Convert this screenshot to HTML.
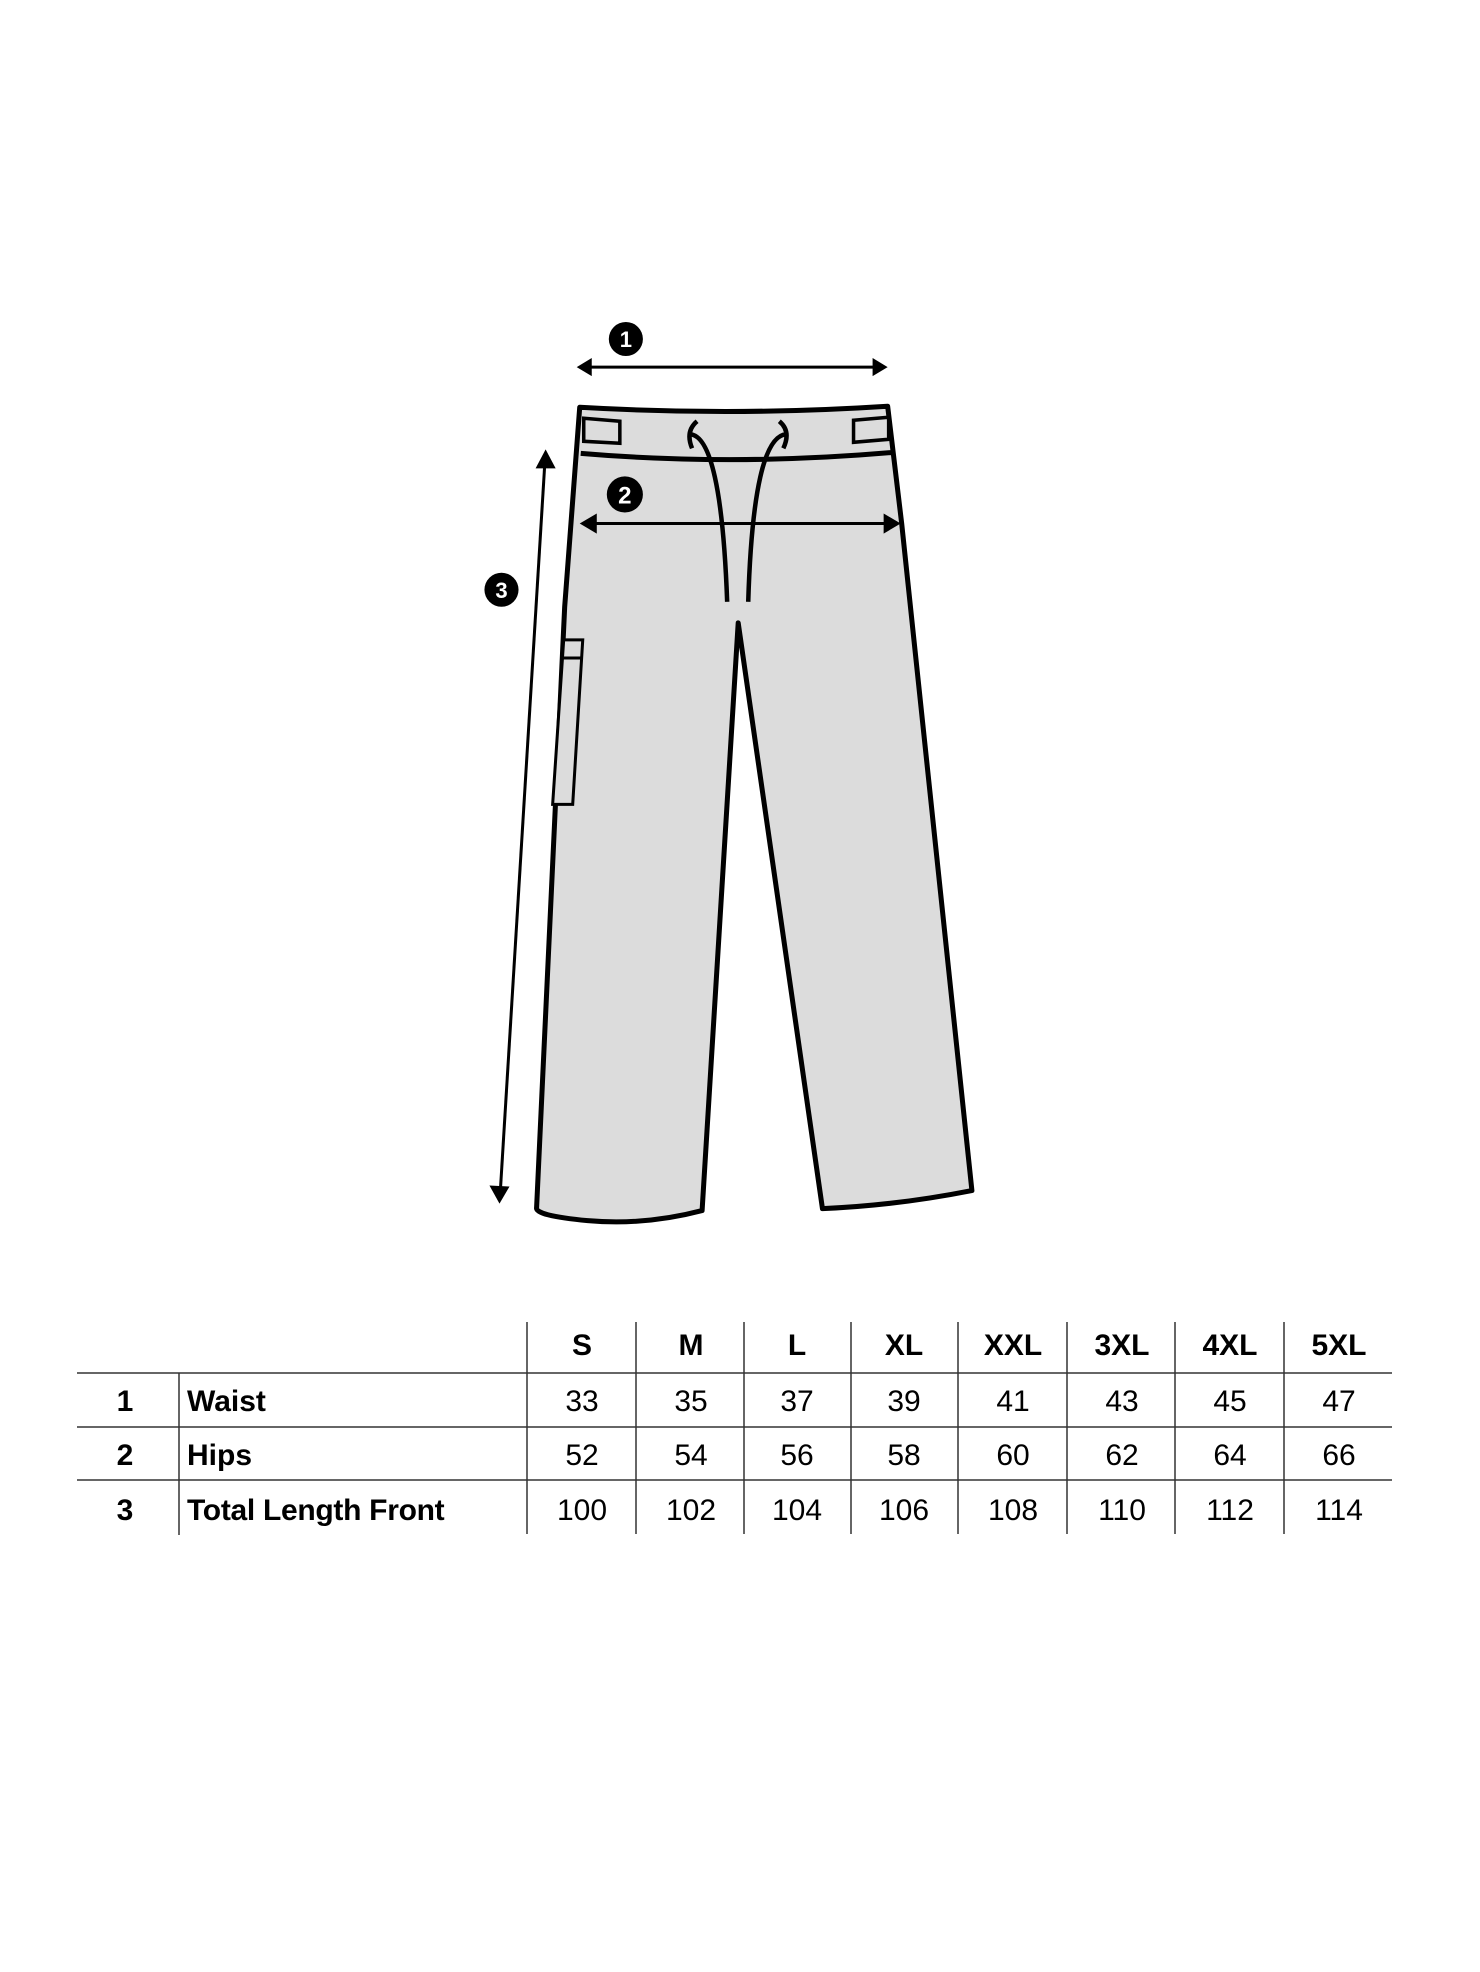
<!DOCTYPE html>
<html><head><meta charset="utf-8"><style>
html,body{margin:0;padding:0;background:#fff;}
body{width:1480px;height:1972px;position:relative;overflow:hidden;font-family:"Liberation Sans",sans-serif;}
svg{position:absolute;left:0;top:0;}
</style></head><body>
<svg width="1480" height="1972" viewBox="0 0 1480 1972">
<g transform="translate(3,5) scale(1.003)">
<path d="M575,401 Q728,410 882,400 L896,517 L966,1182 Q890,1197 817,1200 L733,616 L697,1202 Q640,1217 583,1212 Q530,1207 532,1199 L560,600 Z" fill="#dcdcdc" stroke="#000" stroke-width="5" stroke-linejoin="round"/>
<path d="M576,447 Q728,460 888,446" fill="none" stroke="#000" stroke-width="5"/>
<path d="M579,412 L615,415 L615,437 L579,435 Z" fill="#dcdcdc" stroke="#000" stroke-width="3.5"/>
<path d="M848,414 L883,411 L883,433 L848,436 Z" fill="#dcdcdc" stroke="#000" stroke-width="3.5"/>
<path d="M692,415 Q680,425 687,442 M685,428 Q716,430 722,595" fill="none" stroke="#000" stroke-width="4.5"/>
<path d="M774,415 Q786,425 778,442 M781,428 Q748,430 743,595" fill="none" stroke="#000" stroke-width="4.5"/>
<path d="M559,633 L578,633 L568,797 L548,797 Z" fill="#dcdcdc" stroke="#000" stroke-width="3"/>
<line x1="558" y1="651" x2="577" y2="651" stroke="#000" stroke-width="3"/>
<line x1="585" y1="361" x2="868" y2="361" stroke="#000" stroke-width="3"/>
<polygon points="572,361 587,352 587,370" fill="#000"/>
<polygon points="882,361 867,352 867,370" fill="#000"/>
<circle cx="621" cy="333" r="17" fill="#000"/>
<text x="621" y="341" font-size="22" font-weight="bold" fill="#fff" text-anchor="middle">1</text>
<line x1="588" y1="517" x2="880" y2="517" stroke="#000" stroke-width="3"/>
<polygon points="575,517 592,507 592,527" fill="#000"/>
<polygon points="895,517 878,507 878,527" fill="#000"/>
<circle cx="620" cy="488" r="18" fill="#000"/>
<text x="620" y="497" font-size="24" font-weight="bold" fill="#fff" text-anchor="middle">2</text>
<line x1="540" y1="460" x2="496" y2="1180" stroke="#000" stroke-width="3"/>
<polygon points="541,443 531,462 551,462" fill="#000"/>
<polygon points="495,1195 485,1177 505,1178" fill="#000"/>
<circle cx="497" cy="583" r="17" fill="#000"/>
<text x="497" y="591" font-size="22" font-weight="bold" fill="#fff" text-anchor="middle">3</text>
</g>
<g transform="translate(0,10)">
<g stroke="#333" stroke-width="1.5">
<line x1="77" y1="1363" x2="1392" y2="1363"/>
<line x1="77" y1="1417" x2="1392" y2="1417"/>
<line x1="77" y1="1470" x2="1392" y2="1470"/>
<line x1="179" y1="1363" x2="179" y2="1525"/>
<line x1="527" y1="1312" x2="527" y2="1524"/>
<line x1="636" y1="1312" x2="636" y2="1524"/>
<line x1="744" y1="1312" x2="744" y2="1524"/>
<line x1="851" y1="1312" x2="851" y2="1524"/>
<line x1="958" y1="1312" x2="958" y2="1524"/>
<line x1="1067" y1="1312" x2="1067" y2="1524"/>
<line x1="1175" y1="1312" x2="1175" y2="1524"/>
<line x1="1284" y1="1312" x2="1284" y2="1524"/>
</g>
<g font-size="30" fill="#000" text-anchor="middle">
<g font-weight="bold">
<text x="582" y="1345">S</text><text x="691" y="1345">M</text><text x="797" y="1345">L</text><text x="904" y="1345">XL</text><text x="1013" y="1345">XXL</text><text x="1122" y="1345">3XL</text><text x="1230" y="1345">4XL</text><text x="1339" y="1345">5XL</text>
<text x="125" y="1401">1</text><text x="125" y="1455">2</text><text x="125" y="1510">3</text>
<text x="187" y="1401" text-anchor="start">Waist</text>
<text x="187" y="1455" text-anchor="start">Hips</text>
<text x="187" y="1510" text-anchor="start" letter-spacing="-0.3">Total Length Front</text>
</g>
<text x="582" y="1401">33</text><text x="691" y="1401">35</text><text x="797" y="1401">37</text><text x="904" y="1401">39</text><text x="1013" y="1401">41</text><text x="1122" y="1401">43</text><text x="1230" y="1401">45</text><text x="1339" y="1401">47</text>
<text x="582" y="1455">52</text><text x="691" y="1455">54</text><text x="797" y="1455">56</text><text x="904" y="1455">58</text><text x="1013" y="1455">60</text><text x="1122" y="1455">62</text><text x="1230" y="1455">64</text><text x="1339" y="1455">66</text>
<text x="582" y="1510">100</text><text x="691" y="1510">102</text><text x="797" y="1510">104</text><text x="904" y="1510">106</text><text x="1013" y="1510">108</text><text x="1122" y="1510">110</text><text x="1230" y="1510">112</text><text x="1339" y="1510">114</text>
</g>
</g>
</svg>
</body></html>
